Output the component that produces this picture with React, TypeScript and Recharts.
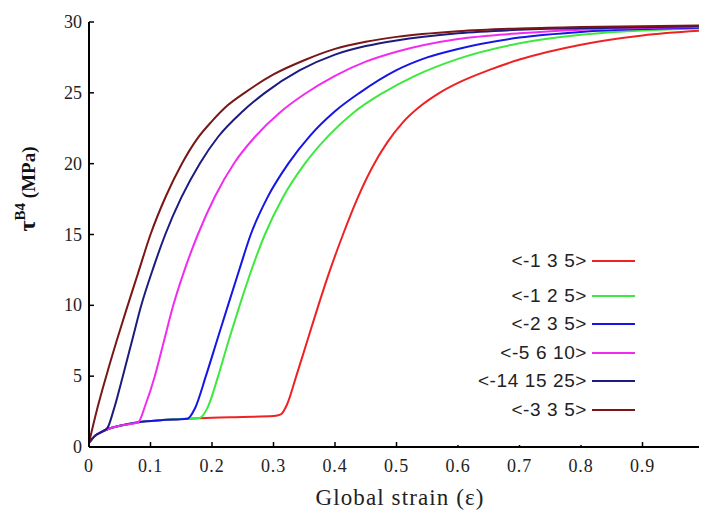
import { LineChart, Line, XAxis, YAxis } from 'recharts';

// [strain, tau] pairs
const red135: [number, number][] = [
  [0, 0.3], [0.01, 0.8], [0.02, 1.05], [0.03, 1.25], [0.05, 1.5], [0.08, 1.75], [0.12, 1.9],
  [0.16, 2.0], [0.2, 2.07], [0.25, 2.12], [0.3, 2.18], [0.312, 2.3], [0.322, 3.0],
  [0.337, 5], [0.355, 7.5], [0.373, 10], [0.392, 12.5], [0.413, 15], [0.436, 17.5],
  [0.46, 19.7], [0.485, 21.5], [0.51, 22.9], [0.54, 24.1], [0.57, 25], [0.6, 25.7],
  [0.65, 26.6], [0.7, 27.35], [0.8, 28.4], [0.9, 29.05], [1, 29.4],
];
const green125: [number, number][] = [
  [0, 0.3], [0.01, 0.8], [0.02, 1.05], [0.03, 1.25], [0.05, 1.5], [0.08, 1.75], [0.12, 1.9],
  [0.16, 2.0], [0.18, 2.05], [0.193, 2.8], [0.21, 5], [0.227, 7.5], [0.245, 10], [0.265, 12.6],
  [0.286, 15], [0.315, 17.6], [0.351, 20], [0.39, 22], [0.43, 23.6], [0.478, 25],
  [0.53, 26.2], [0.6, 27.4], [0.7, 28.5], [0.8, 29.1], [0.9, 29.4], [1, 29.55],
];
const blue235: [number, number][] = [
  [0, 0.3], [0.01, 0.8], [0.02, 1.05], [0.03, 1.25], [0.05, 1.5], [0.08, 1.75], [0.12, 1.9],
  [0.16, 2.0], [0.172, 2.7], [0.19, 5], [0.208, 7.5], [0.226, 10], [0.245, 12.6], [0.263, 15],
  [0.29, 17.6], [0.324, 20], [0.36, 22], [0.4, 23.7], [0.44, 25], [0.5, 26.6],
  [0.55, 27.5], [0.6, 28.1], [0.7, 28.9], [0.8, 29.3], [0.9, 29.5], [1, 29.6],
];
const magenta5610: [number, number][] = [
  [0, 0.3], [0.01, 0.8], [0.02, 1.05], [0.03, 1.25], [0.05, 1.5], [0.08, 1.75], [0.092, 3],
  [0.107, 5], [0.122, 7.5], [0.137, 10], [0.157, 12.7], [0.177, 15], [0.205, 17.7],
  [0.237, 20.1], [0.27, 21.9], [0.31, 23.6], [0.35, 24.9], [0.4, 26.2], [0.45, 27.2],
  [0.5, 27.9], [0.6, 28.8], [0.7, 29.2], [0.8, 29.45], [1, 29.65],
];
const navy141525: [number, number][] = [
  [0, 0.3], [0.01, 0.8], [0.02, 1.05], [0.03, 1.35], [0.04, 2.6], [0.055, 5], [0.07, 7.5],
  [0.085, 10], [0.105, 12.7], [0.124, 15], [0.15, 17.6], [0.18, 20], [0.21, 21.9],
  [0.25, 23.7], [0.286, 25], [0.343, 26.6], [0.4, 27.7], [0.45, 28.3], [0.5, 28.7],
  [0.6, 29.2], [0.7, 29.45], [0.85, 29.6], [1, 29.7],
];
const brown335: [number, number][] = [
  [0, 0.3], [0.014, 2.8], [0.028, 5], [0.045, 7.5], [0.063, 10], [0.08, 12.3], [0.1, 15],
  [0.125, 17.7], [0.151, 20], [0.175, 21.7], [0.2, 23], [0.225, 24.1], [0.253, 25],
  [0.3, 26.3], [0.35, 27.3], [0.4, 28.1], [0.45, 28.6], [0.5, 28.95], [0.6, 29.35],
  [0.7, 29.55], [0.8, 29.65], [1, 29.75],
];

const seriesNames = ['<-1 3 5>', '<-1 2 5>', '<-2 3 5>', '<-5 6 10>', '<-14 15 25>', '<-3 3 5>'];
const seriesColors = ['#ee2222', '#3ee83e', '#1515e6', '#f02cf0', '#1c1c80', '#7a1616'];
const seriesPoints = [red135, green125, blue235, magenta5610, navy141525, brown335];

const xTicks = [0, 0.1, 0.2, 0.3, 0.4, 0.5, 0.6, 0.7, 0.8, 0.9, 1];
const yTicks = [0, 5, 10, 15, 20, 25, 30];

const legendRowTops = [20.7, 56, 84.3, 112.7, 141.3, 170];

const serif = '"Liberation Serif", "Times New Roman", serif';
const axisLine = { stroke: '#000', strokeWidth: 2 };
const tickLine = { stroke: '#000', strokeWidth: 1.5 };

const XTick = (props: any) => (
  <text
    x={props.x}
    y={props.y}
    dy={12}
    textAnchor="middle"
    fontFamily={serif}
    fontSize={18}
    letterSpacing={0.8}
    fill="#222"
  >
    {props.payload.value}
  </text>
);

const YTick = (props: any) => (
  <text x={props.x} y={props.y} dy={6} textAnchor="end" fontFamily={serif} fontSize={18} fill="#222">
    {props.payload.value}
  </text>
);

export default function App() {
  return (
    <div style={{ position: 'relative', width: 699, height: 506 }}>
      <LineChart width={699} height={506} margin={{ top: 14, right: 3, bottom: 0, left: 0 }}>
        <XAxis
          xAxisId="bottom"
          dataKey="x"
          type="number"
          domain={[0, 1]}
          ticks={xTicks}
          height={67}
          axisLine={axisLine}
          tickLine={tickLine}
          tickSize={-5}
          tickMargin={18}
          tick={XTick}
          interval={0}
          label={{
            content: () => (
              <text
                x={392}
                y={497}
                textAnchor="middle"
                fontFamily={serif}
                fontSize={23}
                letterSpacing={1.1}
                fill="#222"
              >
                Global strain (ε)
              </text>
            ),
          }}
        />
        <XAxis
          xAxisId="top"
          orientation="top"
          type="number"
          domain={[0, 1]}
          ticks={xTicks}
          height={0}
          axisLine={axisLine}
          tickLine={tickLine}
          tickSize={-5}
          tick={false}
        />
        <YAxis
          yAxisId="left"
          type="number"
          domain={[0, 30]}
          ticks={yTicks}
          width={81}
          axisLine={axisLine}
          tickLine={tickLine}
          tickSize={-5}
          tickMargin={12}
          tick={YTick}
          interval={0}
          label={{
            content: () => (
              <text
                transform="translate(27,181) rotate(-90)"
                textAnchor="middle"
                fontFamily={serif}
                fontWeight="bold"
                fill="#111"
              >
                <tspan fontSize={24}>τ</tspan>
                <tspan fontSize={15} dy={-10}>B4</tspan>
                <tspan fontSize={19} dy={10}> (MPa)</tspan>
              </text>
            ),
          }}
        />
        <YAxis
          yAxisId="right"
          orientation="right"
          type="number"
          domain={[0, 30]}
          ticks={yTicks}
          width={0}
          axisLine={axisLine}
          tickLine={tickLine}
          tickSize={-5}
          tick={false}
        />
        {seriesPoints.map((pts, i) => (
          <Line
            key={seriesNames[i]}
            xAxisId="bottom"
            yAxisId="left"
            data={pts.map(([x, y]) => ({ x, y }))}
            dataKey="y"
            name={seriesNames[i]}
            type="monotone"
            stroke={seriesColors[i]}
            strokeWidth={2}
            dot={false}
            isAnimationActive={false}
          />
        ))}
      </LineChart>
      <div
        style={{
          position: 'absolute',
          left: 432,
          top: 232,
          width: 200,
          height: 205,
          background: '#fff',
          fontFamily: '"Liberation Sans", Arial, sans-serif',
          fontSize: 19,
          letterSpacing: 0.6,
          color: '#222',
        }}
      >
        {seriesNames.map((name, i) => (
          <div key={name} style={{ position: 'absolute', top: legendRowTops[i], left: 0, width: 200, height: 0 }}>
            <span
              style={{
                position: 'absolute',
                right: 53,
                top: -11,
                lineHeight: '22px',
                whiteSpace: 'nowrap',
              }}
            >
              {name}
            </span>
            <span
              style={{
                position: 'absolute',
                left: 152,
                top: -1,
                width: 43,
                height: 2,
                background: seriesColors[i],
              }}
            />
          </div>
        ))}
      </div>
    </div>
  );
}
